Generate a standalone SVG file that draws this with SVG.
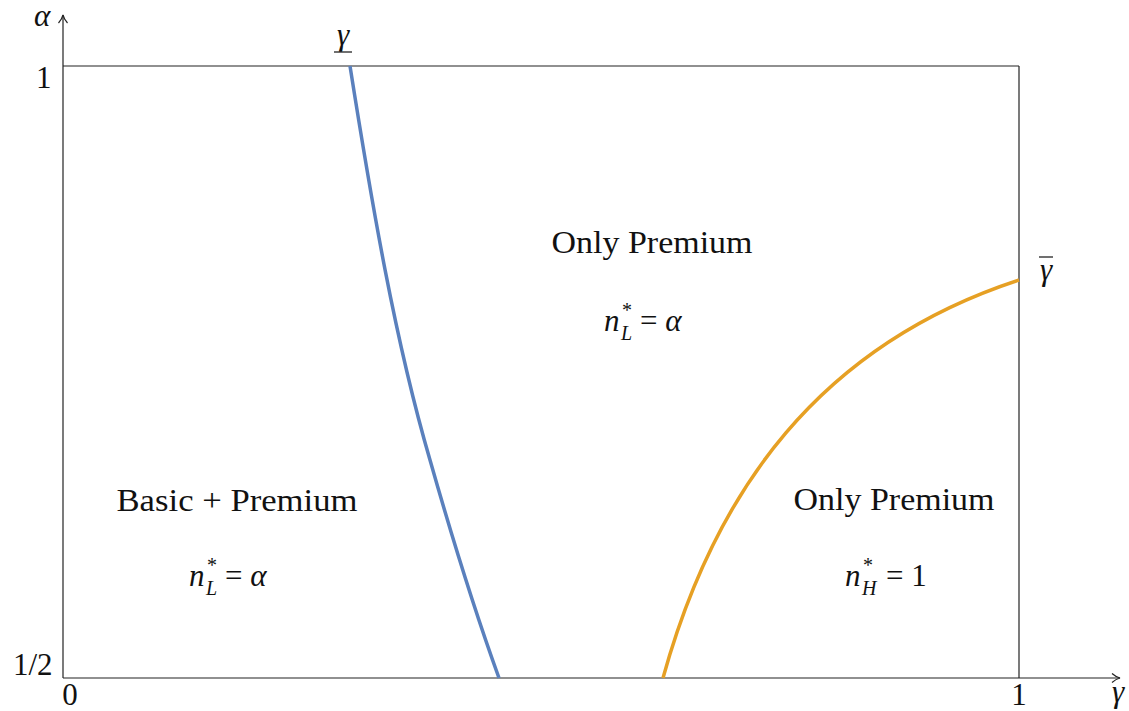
<svg xmlns="http://www.w3.org/2000/svg" width="1129" height="711" viewBox="0 0 1129 711">
<style>
.ax{stroke:#222;stroke-width:1.2;fill:none}
.t{font-family:"Liberation Serif","DejaVu Serif",serif;fill:#111;font-size:31px}
.m{font-family:"Liberation Serif","DejaVu Serif",serif;font-style:italic;fill:#111;font-size:31px}
.s{font-family:"Liberation Serif","DejaVu Serif",serif;fill:#111;font-size:20px}
.si{font-family:"Liberation Serif","DejaVu Serif",serif;font-style:italic;fill:#111;font-size:20px}
.c{text-anchor:middle}
</style>
<rect width="1129" height="711" fill="#fff"/>
<g id="axes">
<line class="ax" x1="63" y1="678" x2="63" y2="15"/>
<path class="ax" d="M58.5,23 Q62,19 63,15 Q64,19 67.5,23"/>
<line class="ax" x1="63" y1="678" x2="1120" y2="678"/>
<path class="ax" d="M1112,673.5 Q1116,677 1120,678 Q1116,679 1112,682.5"/>
<line class="ax" x1="63" y1="66" x2="1019" y2="66"/>
<line class="ax" x1="1019" y1="66" x2="1019" y2="678"/>
</g>
<g id="connectors">
<path d="M350,66 C372,205 395,340 430,460 C455,548 478,620 499,678" fill="none" stroke="#5a80bd" stroke-width="3.5"/>
<path d="M663,678 C715,490 820,345 1019,280" fill="none" stroke="#e6a024" stroke-width="3.5"/>
</g>
<g id="axis-labels">
<text class="m" x="34" y="26" font-size="24">α</text>
<text class="t" x="36" y="88">1</text>
<text class="t" x="13" y="675">1/2</text>
<text class="t c" x="70" y="705" font-size="29">0</text>
<text class="t c" x="1019" y="705" font-size="29">1</text>
<text class="m" x="1112" y="702" font-size="27">γ</text>
<text class="m c" x="343" y="45" font-size="27">γ</text>
<line x1="334" y1="52" x2="352" y2="52" stroke="#333" stroke-width="1.4"/>
<text class="m c" x="1046" y="280" font-size="27">γ</text>
<line x1="1039" y1="257" x2="1053" y2="257" stroke="#333" stroke-width="1.4"/>
</g>
<g id="region-top">
<text class="t c" x="652" y="253" textLength="201" lengthAdjust="spacingAndGlyphs">Only Premium</text>
<text class="m" x="604" y="331">n</text>
<text class="s" x="622" y="317">*</text>
<text class="si" x="621" y="340">L</text>
<text class="t" x="640" y="331">= <tspan font-style="italic">α</tspan></text>
</g>
<g id="region-left">
<text class="t c" x="237" y="511" textLength="241" lengthAdjust="spacingAndGlyphs">Basic + Premium</text>
<text class="m" x="189" y="586">n</text>
<text class="s" x="207" y="572">*</text>
<text class="si" x="206" y="595">L</text>
<text class="t" x="225" y="586">= <tspan font-style="italic">α</tspan></text>
</g>
<g id="region-right">
<text class="t c" x="894" y="510" textLength="201" lengthAdjust="spacingAndGlyphs">Only Premium</text>
<text class="m" x="845" y="586">n</text>
<text class="s" x="863" y="572">*</text>
<text class="si" x="862" y="595">H</text>
<text class="t" x="886" y="586">= 1</text>
</g>
</svg>
